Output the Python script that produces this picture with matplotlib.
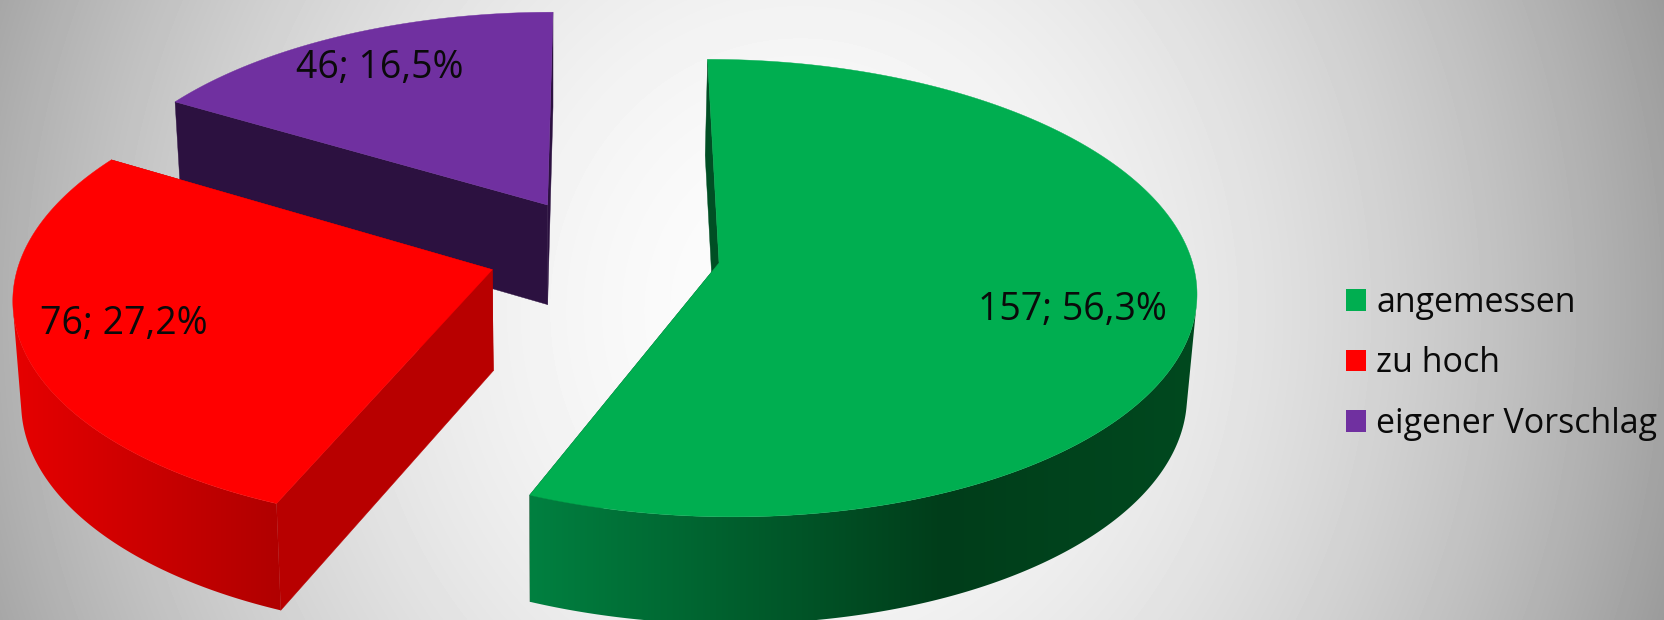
import numpy as np
import matplotlib
matplotlib.use("Agg")
import matplotlib.pyplot as plt
from matplotlib.patches import Polygon, Patch

# ---- data ----
categories = ["angemessen", "zu hoch", "eigener Vorschlag"]
values = [157, 76, 46]
point_labels = ["157; 56,3%", "76; 27,2%", "46; 16,5%"]
top_colors = ["#00AE50", "#FF0000", "#7030A0"]

# ---- camera / style ----
W, H = 1664, 620
CX, CY = 604.0, 252.0
A, B, K = 471.0, 223.6, 0.1095
EXPLODE = 0.2477
THICK = 100.8
VX, SQUEEZE = 552.0, 0.0155
cut_colors = ["#004F24", "#B80000", "#2C1140"]
wall_ramps = [
    [(0.0, "#008040"), (0.62, "#003D1A"), (1.0, "#00491F")],
    [(0.0, "#E60000"), (1.0, "#B00000")],
    [(0.0, "#2C1140"), (1.0, "#2C1140")],
]
label_xy = [(1072, 310), (124, 324), (380, 68)]

def project_top(u, v):
    w = 1 + K * v
    return CX + A * u / w, CY - B * v / w

def project_bottom(u, v):
    x, y = project_top(u, v)
    w = 1 + K * v
    return x + (VX - x) * SQUEEZE, y + THICK / np.sqrt(w)

def ramp_image(stops, n=256):
    ts = [s[0] for s in stops]
    rgb = np.array([matplotlib.colors.to_rgb(s[1]) for s in stops])
    t = np.linspace(0, 1, n)
    return np.stack([np.interp(t, ts, rgb[:, c]) for c in range(3)], axis=-1)[None, :, :]

fig = plt.figure(figsize=(W / 100, H / 100), dpi=100)
ax = fig.add_axes([0, 0, 1, 1])

# background gradient
yy, xx = np.mgrid[0:H, 0:W]
r = np.hypot((xx - 800) / 800.0, (yy - 310) / 870.0)
bg = np.clip(0.99 - 0.30 * r ** 1.9, 0, 1)
ax.imshow(bg, cmap="gray", vmin=0, vmax=1, extent=(0, W, H, 0), aspect="auto", zorder=0)

fractions = np.array(values) / sum(values)
edges = np.concatenate([[0], np.cumsum(fractions)]) * 2 * np.pi

for i in [2, 1, 0]:
    t0, t1 = edges[i], edges[i + 1]
    mid = (t0 + t1) / 2
    ou, ov = EXPLODE * np.sin(mid), EXPLODE * np.cos(mid)
    th = np.linspace(t0, t1, 361)
    us, vs = ou + np.sin(th), ov + np.cos(th)
    base = 2 + (2 - i) * 3
    # cut faces
    for end in (0, -1):
        pts = [project_top(ou, ov), project_top(us[end], vs[end]),
               project_bottom(us[end], vs[end]), project_bottom(ou, ov)]
        ax.add_patch(Polygon(pts, closed=True, fc=cut_colors[i], ec=cut_colors[i], lw=0.3, zorder=base))
    # outer wall: only the part of the arc that faces the viewer, up to the silhouette
    xt, yt = project_top(us, vs)
    xb, yb = project_bottom(us, vs)
    front = np.gradient(xt) * (yb - yt) - np.gradient(yt) * (xb - xt) < 0
    if front.any():
        outline = list(zip(xt[front], yt[front])) + list(zip(xb[front][::-1], yb[front][::-1]))
        wall = Polygon(outline, closed=True, fc="none", ec="none", transform=ax.transData)
        ax.add_patch(wall)
        x_lo = min(xt[front].min(), xb[front].min())
        x_hi = max(xt[front].max(), xb[front].max())
        im = ax.imshow(ramp_image(wall_ramps[i]), extent=(x_lo, x_hi, H, 0), aspect="auto",
                       interpolation="bilinear", zorder=base + 1)
        im.set_clip_path(wall)
    # top
    top = [project_top(ou, ov)] + list(zip(xt, yt))
    ax.add_patch(Polygon(top, closed=True, fc=top_colors[i], ec=top_colors[i], lw=0.3, zorder=base + 2))
    ax.text(*label_xy[i], point_labels[i], fontsize=27, family="Open Sans", color="#0a0a0a",
            ha="center", va="center", zorder=20)

ax.set_xlim(0, W)
ax.set_ylim(H, 0)
ax.axis("off")

handles = [Patch(fc=c, ec="none", label=n) for c, n in zip(top_colors, categories)]
ax.legend(handles=handles, loc="center left", bbox_to_anchor=(1345.5 / W, 1 - 363.5 / H), frameon=False,
          prop={"family": "Open Sans", "size": 24.5}, handlelength=0.61, handleheight=0.61,
          handletextpad=0.3, labelspacing=0.79, borderpad=0, borderaxespad=0, labelcolor="#0a0a0a")

fig.savefig("out.png", dpi=100)
